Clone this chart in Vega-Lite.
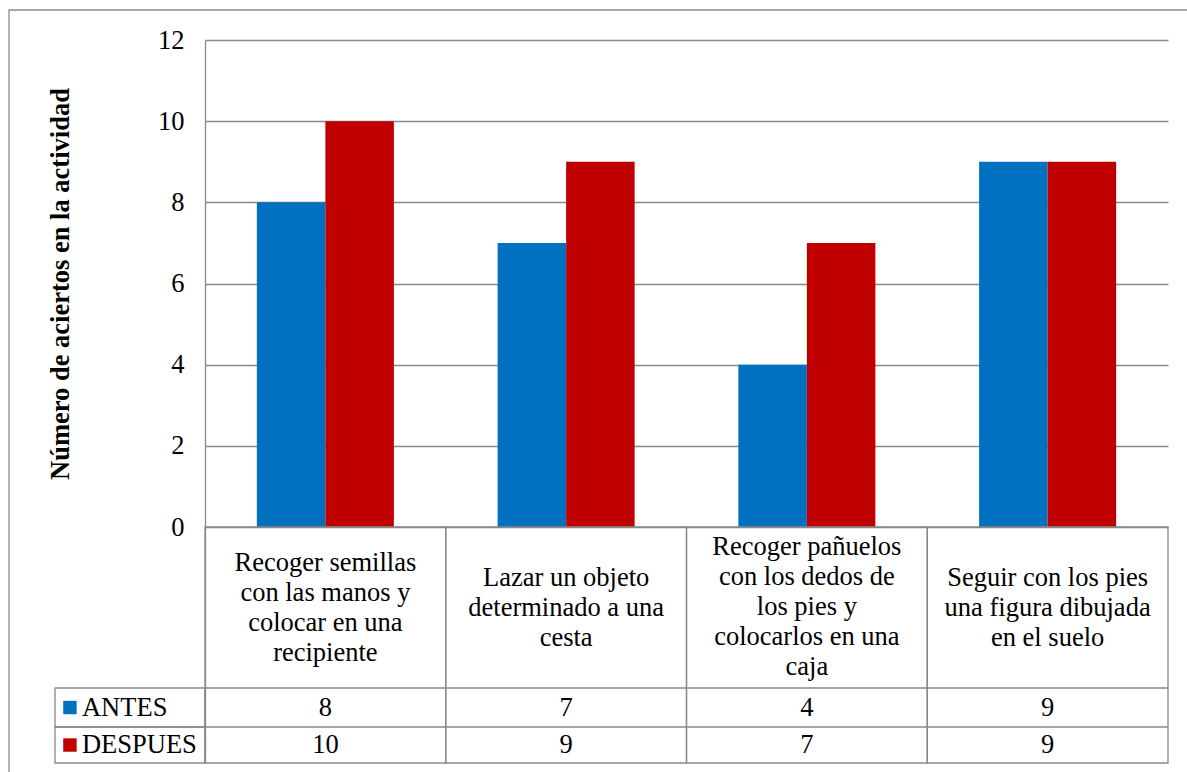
{
  "$schema": "https://vega.github.io/schema/vega-lite/v6.json",
  "width": 963,
  "height": 723,
  "autosize": {"type": "none"},
  "padding": {"left": 205, "top": 40, "right": 19, "bottom": 9},
  "background": "white",
  "config": {
    "view": {"stroke": null},
    "font": "Liberation Serif",
    "text": {"font": "Liberation Serif", "fontSize": 26.5, "color": "black"}
  },
  "data": {
    "values": [
      {"actividad": "Recoger semillas\ncon las manos y\ncolocar en una\nrecipiente", "serie": "ANTES", "valor": 8},
      {"actividad": "Recoger semillas\ncon las manos y\ncolocar en una\nrecipiente", "serie": "DESPUES", "valor": 10},
      {"actividad": "Lazar un objeto\ndeterminado a una\ncesta", "serie": "ANTES", "valor": 7},
      {"actividad": "Lazar un objeto\ndeterminado a una\ncesta", "serie": "DESPUES", "valor": 9},
      {"actividad": "Recoger pañuelos\ncon los dedos de\nlos pies y\ncolocarlos en una\ncaja", "serie": "ANTES", "valor": 4},
      {"actividad": "Recoger pañuelos\ncon los dedos de\nlos pies y\ncolocarlos en una\ncaja", "serie": "DESPUES", "valor": 7},
      {"actividad": "Seguir con los pies\nuna figura dibujada\nen el suelo", "serie": "ANTES", "valor": 9},
      {"actividad": "Seguir con los pies\nuna figura dibujada\nen el suelo", "serie": "DESPUES", "valor": 9}
    ]
  },
  "resolve": {"scale": {"x": "independent"}},
  "layer": [
    {
      "layer": [
        {
          "data": {"values": [{}]},
          "mark": {"type": "rect", "fill": "white", "fillOpacity": 0, "stroke": "#898989", "strokeWidth": 1.3},
          "encoding": {
            "x": {"datum": -0.814, "type": "quantitative", "axis": null, "scale": {"domain": [0, 4], "nice": false, "zero": false}},
            "x2": {"datum": 5.5},
            "y": {"datum": 12.739, "type": "quantitative"},
            "y2": {"datum": -7}
          }
        },
        {
          "data": {"values": [{}]},
          "mark": {"type": "rect", "fill": "white", "fillOpacity": 0, "stroke": "#898989", "strokeWidth": 1.3},
          "encoding": {
            "x": {"datum": -0.623, "type": "quantitative", "axis": null},
            "x2": {"datum": 0},
            "y": {"datum": -3.967, "type": "quantitative"},
            "y2": {"datum": -4.928}
          }
        },
        {
          "data": {"values": [{}]},
          "mark": {"type": "rect", "fill": "white", "fillOpacity": 0, "stroke": "#898989", "strokeWidth": 1.3},
          "encoding": {
            "x": {"datum": -0.623, "type": "quantitative", "axis": null},
            "x2": {"datum": 0},
            "y": {"datum": -4.928, "type": "quantitative"},
            "y2": {"datum": -5.815}
          }
        },
        {
          "transform": [{"filter": "datum.serie === 'ANTES' && datum.valor === 8"}],
          "mark": {"type": "point", "shape": "square", "filled": true, "opacity": 1, "size": 180},
          "encoding": {
            "x": {"datum": -0.561, "type": "quantitative", "axis": null},
            "y": {"datum": -4.448, "type": "quantitative"},
            "color": {"field": "serie", "type": "nominal", "legend": null}
          }
        },
        {
          "transform": [{"filter": "datum.serie === 'DESPUES' && datum.valor === 10"}],
          "mark": {"type": "point", "shape": "square", "filled": true, "opacity": 1, "size": 180},
          "encoding": {
            "x": {"datum": -0.561, "type": "quantitative", "axis": null},
            "y": {"datum": -5.372, "type": "quantitative"},
            "color": {"field": "serie", "type": "nominal", "legend": null}
          }
        },
        {
          "transform": [{"filter": "datum.serie === 'ANTES' && datum.valor === 8"}],
          "mark": {"type": "text", "align": "left", "baseline": "middle"},
          "encoding": {
            "x": {"datum": -0.511, "type": "quantitative", "axis": null},
            "y": {"datum": -4.448, "type": "quantitative"},
            "text": {"field": "serie"}
          }
        },
        {
          "transform": [{"filter": "datum.serie === 'DESPUES' && datum.valor === 10"}],
          "mark": {"type": "text", "align": "left", "baseline": "middle"},
          "encoding": {
            "x": {"datum": -0.511, "type": "quantitative", "axis": null},
            "y": {"datum": -5.372, "type": "quantitative"},
            "text": {"field": "serie"}
          }
        }
      ]
    },
    {
      "layer": [
        {
          "mark": {"type": "bar"},
          "encoding": {
            "x": {
              "field": "actividad", "type": "nominal", "sort": null, "axis": null,
              "scale": {
                "domain": [
                  "Recoger semillas\ncon las manos y\ncolocar en una\nrecipiente",
                  "Lazar un objeto\ndeterminado a una\ncesta",
                  "Recoger pañuelos\ncon los dedos de\nlos pies y\ncolocarlos en una\ncaja",
                  "Seguir con los pies\nuna figura dibujada\nen el suelo"
                ],
                "paddingInner": 0, "paddingOuter": 0
              }
            },
            "xOffset": {
              "field": "serie", "type": "nominal",
              "scale": {"domain": ["ANTES", "DESPUES"], "paddingInner": 0, "paddingOuter": 0.757}
            },
            "y": {
              "field": "valor", "type": "quantitative",
              "scale": {"domain": [-5.815, 12], "nice": false, "zero": false},
              "axis": {
                "values": [0, 2, 4, 6, 8, 10, 12],
                "grid": true, "gridColor": "#898989", "gridWidth": 1.3,
                "domain": true, "domainColor": "#898989", "domainWidth": 1.3,
                "ticks": false, "labelPadding": 21,
                "labelFont": "Liberation Serif", "labelFontSize": 26.5, "labelColor": "black",
                "title": "Número de aciertos en la actividad",
                "titleFont": "Liberation Serif", "titleFontSize": 26.5, "titleFontWeight": "bold", "titleColor": "black",
                "titleAngle": -90, "titleX": -137, "titleY": 243.5, "titleAlign": "center", "titleBaseline": "alphabetic"
              }
            },
            "y2": {"datum": 0},
            "color": {
              "field": "serie", "type": "nominal",
              "scale": {"domain": ["ANTES", "DESPUES"], "range": ["#0070C0", "#C00000"]},
              "legend": null
            }
          }
        },
        {
          "transform": [{"filter": "datum.serie === 'ANTES'"}],
          "mark": {"type": "rect", "fill": "white", "fillOpacity": 0, "stroke": "#898989", "strokeWidth": 1.3},
          "encoding": {
            "x": {"field": "actividad", "type": "nominal", "sort": null, "axis": null},
            "y": {"datum": 0, "type": "quantitative"},
            "y2": {"datum": -5.815}
          }
        },
        {
          "data": {"values": [{}]},
          "mark": {"type": "rule", "color": "#898989", "strokeWidth": 1.3},
          "encoding": {"y": {"datum": -3.967, "type": "quantitative"}}
        },
        {
          "data": {"values": [{}]},
          "mark": {"type": "rule", "color": "#898989", "strokeWidth": 1.3},
          "encoding": {"y": {"datum": -4.928, "type": "quantitative"}}
        },
        {
          "transform": [{"filter": {"and": [{"field": "serie", "equal": "ANTES"}, {"field": "actividad", "equal": "Recoger semillas\ncon las manos y\ncolocar en una\nrecipiente"}]}}],
          "mark": {"type": "text", "lineBreak": "\n", "lineHeight": 30, "align": "center", "baseline": "middle"},
          "encoding": {
            "x": {"field": "actividad", "type": "nominal", "sort": null, "axis": null},
            "y": {"datum": -0.887, "type": "quantitative"},
            "text": {"field": "actividad"}
          }
        },
        {
          "transform": [{"filter": {"and": [{"field": "serie", "equal": "ANTES"}, {"field": "actividad", "oneOf": ["Lazar un objeto\ndeterminado a una\ncesta", "Seguir con los pies\nuna figura dibujada\nen el suelo"]}]}}],
          "mark": {"type": "text", "lineBreak": "\n", "lineHeight": 30, "align": "center", "baseline": "middle"},
          "encoding": {
            "x": {"field": "actividad", "type": "nominal", "sort": null, "axis": null},
            "y": {"datum": -1.257, "type": "quantitative"},
            "text": {"field": "actividad"}
          }
        },
        {
          "transform": [{"filter": {"and": [{"field": "serie", "equal": "ANTES"}, {"field": "actividad", "equal": "Recoger pañuelos\ncon los dedos de\nlos pies y\ncolocarlos en una\ncaja"}]}}],
          "mark": {"type": "text", "lineBreak": "\n", "lineHeight": 30, "align": "center", "baseline": "middle"},
          "encoding": {
            "x": {"field": "actividad", "type": "nominal", "sort": null, "axis": null},
            "y": {"datum": -0.493, "type": "quantitative"},
            "text": {"field": "actividad"}
          }
        },
        {
          "transform": [{"filter": "datum.serie === 'ANTES'"}],
          "mark": {"type": "text", "align": "center", "baseline": "middle"},
          "encoding": {
            "x": {"field": "actividad", "type": "nominal", "sort": null, "axis": null},
            "y": {"datum": -4.448, "type": "quantitative"},
            "text": {"field": "valor"}
          }
        },
        {
          "transform": [{"filter": "datum.serie === 'DESPUES'"}],
          "mark": {"type": "text", "align": "center", "baseline": "middle"},
          "encoding": {
            "x": {"field": "actividad", "type": "nominal", "sort": null, "axis": null},
            "y": {"datum": -5.372, "type": "quantitative"},
            "text": {"field": "valor"}
          }
        }
      ]
    }
  ]
}
